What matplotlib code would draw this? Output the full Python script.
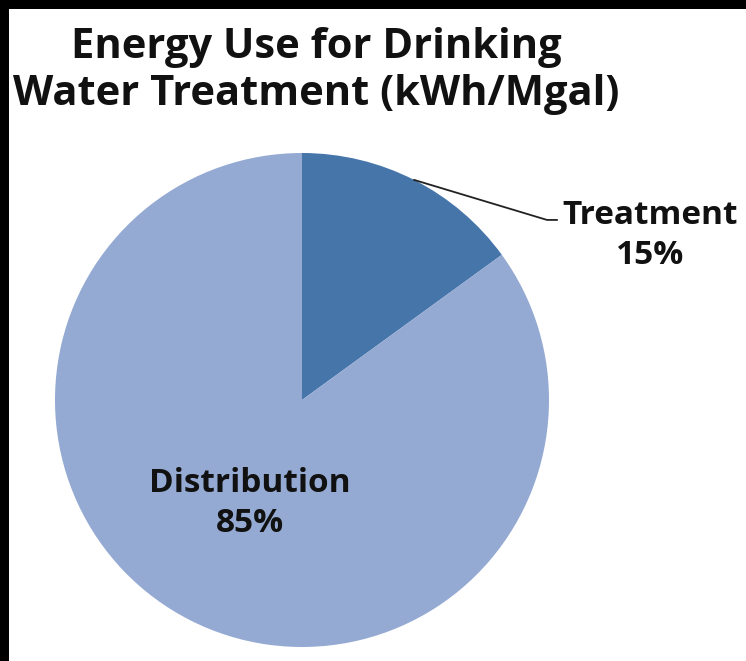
import numpy as np
import matplotlib
matplotlib.use('Agg')
import matplotlib.pyplot as plt
from matplotlib.patches import Rectangle

labels = ['Treatment', 'Distribution']
values = [15, 85]
colors = ['#4675AA', '#94AAD3']
title = 'Energy Use for Drinking\nWater Treatment (kWh/Mgal)'

plt.rcParams['font.family'] = ['Open Sans', 'DejaVu Sans']

W, H = 746, 661
fig = plt.figure(figsize=(W / 100, H / 100), dpi=100, facecolor='black')
# white page, leaving the black strip on top and left
fig.patches.append(Rectangle((9 / W, 0), 1, 1 - 9 / H, transform=fig.transFigure,
                             facecolor='white', edgecolor='none', zorder=-5))

ax = fig.add_axes([55 / W, 1 - 647 / H, 494 / W, 494 / H])
ax.set_zorder(2)
ax.patch.set_visible(False)
wedges, _ = ax.pie(values, colors=colors, startangle=90, counterclock=False,
                   radius=1, wedgeprops=dict(linewidth=0), frame=False)
ax.set_xlim(-1, 1)
ax.set_ylim(-1, 1)
ax.set_aspect('auto')
ax.axis('off')

# Treatment label with leader line
w = wedges[0]
mid = np.deg2rad((w.theta1 + w.theta2) / 2)
ax.plot([np.cos(mid), 0.992, 1.032], [np.sin(mid), 0.729, 0.729],
        color='#222222', lw=1.3, clip_on=False)
ax.text(1.41, 0.665, f'{labels[0]}\n{values[0]}%', ha='center', va='center',
        fontsize=24, fontweight='bold', linespacing=1.27, color='#111111', clip_on=False)

# Distribution label inside
ax.text(-0.21, -0.42, f'{labels[1]}\n{values[1]}%', ha='center', va='center',
        fontsize=24, fontweight='bold', linespacing=1.27, color='#111111')

fig.text(316 / W, 1 - 71 / H, title, ha='center', va='center', fontsize=30,
         fontweight='bold', linespacing=1.18, color='#111111')

fig.savefig('out.png', dpi=100, facecolor=fig.get_facecolor())
